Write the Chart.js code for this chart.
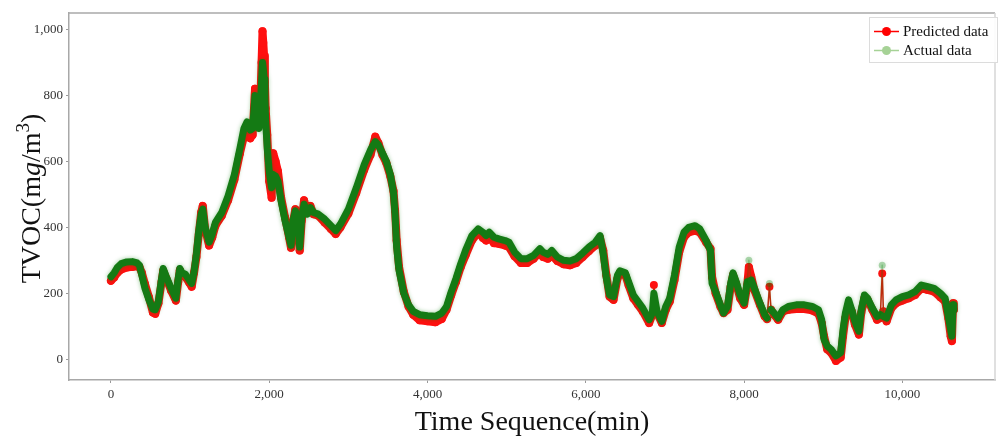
<!DOCTYPE html>
<html>
<head>
<meta charset="utf-8">
<title>TVOC predicted vs actual</title>
<script src="https://cdn.jsdelivr.net/npm/chart.js@4.4.0/dist/chart.umd.min.js"></script>
<style>
  html, body { margin: 0; padding: 0; background: #fff; }
  #wrap { width: 999px; height: 437px; }
</style>
</head>
<body>
<div id="wrap"><canvas id="tvocChart" width="999" height="437"></canvas></div>
<script>
// values (minutes, mg/m3)
const timeMin = [
  0, 40, 80, 130, 200, 270, 330, 360, 390, 430,
  480, 530, 560, 600, 640, 660, 700, 760, 820, 850,
  870, 900, 940, 990, 1020, 1050, 1080, 1110, 1140, 1160,
  1190, 1240, 1280, 1320, 1400, 1480, 1560, 1630, 1680, 1720,
  1760, 1790, 1820, 1850, 1870, 1890, 1903, 1915, 1925, 1935, 1945, 1955, 1975,
  2000, 2030, 2050, 2080, 2110, 2150, 2200, 2250, 2275, 2300,
  2330, 2360, 2385, 2410, 2440, 2480, 2520, 2560, 2620, 2700,
  2780, 2840, 2900, 3000, 3100, 3200, 3280, 3340, 3380, 3430,
  3480, 3530, 3570, 3590, 3610, 3640, 3700, 3760, 3820, 3900,
  4000, 4100, 4180, 4240, 4300, 4360, 4420, 4480, 4560, 4640,
  4700, 4740, 4780, 4840, 4900, 4980, 5030, 5100, 5180, 5260,
  5340, 5420, 5460, 5520, 5570, 5640, 5720, 5800, 5880, 5960,
  6040, 6120, 6180, 6220, 6260, 6300, 6350, 6400, 6430, 6500,
  6540, 6600, 6660, 6720, 6800, 6840, 6860, 6900, 6960, 7010,
  7060, 7120, 7180, 7240, 7300, 7380, 7440, 7520, 7575, 7595,
  7640, 7700, 7740, 7790, 7830, 7860, 7900, 7950, 8000, 8040,
  8060, 8090, 8130, 8200, 8260, 8290, 8320, 8340, 8380, 8430,
  8490, 8560, 8660, 8760, 8860, 8940, 8980, 9010, 9050, 9100,
  9160, 9220, 9250, 9280, 9320, 9360, 9400, 9450, 9480, 9520,
  9560, 9620, 9680, 9720, 9745, 9760, 9800, 9860, 9920, 10000,
  10080, 10160, 10240, 10320, 10400, 10480, 10540, 10580, 10610, 10625,
  10640, 10650
];

const actualTvoc = [
  250, 262, 278, 290, 295, 296, 292, 285, 255, 215,
  180, 152, 150, 175, 245, 275, 250, 215, 185, 245,
  275, 262, 258, 240, 230, 265, 320, 390, 440, 455,
  400, 355, 380, 415, 445, 495, 560, 640, 700, 720,
  695, 700, 800, 760, 700, 780, 840, 900, 880, 850, 790, 720, 640,
  570, 520, 560, 555, 540, 480, 420, 370, 345, 420,
  450, 420, 340, 430, 470, 440, 460, 445, 440, 425,
  405, 390, 410, 455, 520, 590, 635, 660, 650, 625,
  600, 560, 505, 440, 340, 270, 200, 165, 145, 135,
  132, 130, 140, 160, 205, 245, 290, 330, 375, 395,
  385, 375, 385, 370, 365, 360, 355, 325, 305, 305,
  315, 335, 325, 318, 330, 310, 300, 298, 305, 322,
  340, 355, 375, 320, 245, 195, 190, 255, 268, 262,
  235, 195, 175, 155, 120, 140, 200, 145, 115, 160,
  185, 255, 340, 385, 400, 405, 395, 360, 330, 230,
  205, 165, 140, 160, 230, 262, 235, 195, 170, 235,
  300, 240, 215, 170, 135, 125, 230, 150, 140, 125,
  150, 160, 165, 165, 160, 150, 120, 60, 40, 30,
  10, 20, 90, 140, 180, 150, 115, 85, 150, 195,
  185, 155, 130, 135, 285, 130, 125, 165, 180, 190,
  195, 205, 225, 220, 215, 200, 185, 130, 90, 70,
  165, 150
];

const predictedTvoc = [
  238, 248, 262, 272, 278, 280, 282, 280, 262, 228,
  188, 142, 138, 170, 235, 268, 245, 208, 178, 235,
  270, 255, 250, 232, 220, 262, 310, 380, 445, 465,
  395, 345, 370, 405, 435, 482, 545, 625, 675, 690,
  670, 680, 820, 780, 720, 800, 900, 995, 960, 920, 840, 760, 680,
  540, 490, 625, 600, 570, 490, 430, 370, 338, 415,
  455, 430, 330, 420, 482, 445, 465, 440, 435, 415,
  395, 380, 400, 442, 505, 575, 620, 675, 655, 620,
  595, 555, 510, 450, 360, 280, 205, 160, 135, 118,
  115, 112, 122, 150, 195, 235, 280, 315, 360, 385,
  368, 360, 370, 352, 350, 345, 340, 312, 292, 292,
  305, 325, 310, 305, 315, 298, 288, 285, 292, 310,
  328, 345, 368, 330, 255, 190, 180, 245, 262, 255,
  225, 185, 165, 145, 110, 135, 225, 140, 110, 150,
  175, 240, 325, 370, 385, 390, 385, 355, 335, 250,
  200, 160, 140, 150, 220, 255, 228, 185, 165, 225,
  280, 250, 210, 165, 130, 122, 220, 150, 135, 120,
  145, 150, 152, 152, 148, 138, 110, 70, 30, 20,
  -5, 5, 70, 125, 165, 145, 105, 75, 140, 185,
  180, 150, 120, 125, 260, 145, 115, 155, 170, 178,
  185, 195, 215, 210, 205, 188, 175, 125, 70, 55,
  170, 150
];

const xTickValues = [0, 2000, 4000, 6000, 8000, 10000];
const yTickValues = [0, 200, 400, 600, 800, 1000];

const seriesNames = ['Predicted data', 'Actual data'];

const SERIF = "'Liberation Serif', 'Times New Roman', serif";
const SPIKE_JUMP = 58;

function toPoints(vals) {
  return timeMin.map((t, i) => ({ x: t, y: vals[i] }));
}

// a lone reading that sticks out above both neighbours
function isSpike(vals, i) {
  if (i <= 0 || i >= vals.length - 1) return false;
  return vals[i] - vals[i - 1] > SPIKE_JUMP && vals[i] - vals[i + 1] > SPIKE_JUMP;
}

function spikeSegment(vals) {
  return ctx => isSpike(vals, ctx.p0DataIndex) || isSpike(vals, ctx.p1DataIndex);
}

// soft halo round the green band, like many overlapping transparent dots
const glowPlugin = {
  id: 'glow',
  beforeDatasetDraw(chart, args) {
    if (args.index === 1) {
      const ctx = chart.ctx;
      ctx.save();
      ctx.shadowColor = 'rgba(0, 128, 0, 0.4)';
      ctx.shadowBlur = 4;
    }
  },
  afterDatasetDraw(chart, args) {
    if (args.index === 1) chart.ctx.restore();
  }
};

// frame, axis titles and legend box
const decorPlugin = {
  id: 'decor',
  afterDraw(chart) {
    const ctx = chart.ctx;
    const a = chart.chartArea;
    ctx.save();

    // top and right edges of the frame
    ctx.strokeStyle = '#a8a8a8';
    ctx.lineWidth = 1.5;
    ctx.beginPath();
    ctx.moveTo(a.left, a.top);
    ctx.lineTo(a.right, a.top);
    ctx.stroke();
    ctx.strokeStyle = '#d6d6d6';
    ctx.beginPath();
    ctx.moveTo(a.right, a.top);
    ctx.lineTo(a.right, a.bottom);
    ctx.stroke();

    // x title
    ctx.fillStyle = '#111';
    ctx.font = '28px ' + SERIF;
    ctx.textAlign = 'center';
    ctx.textBaseline = 'middle';
    ctx.fillText('Time Sequence(min)', (a.left + a.right) / 2, 423);

    // y title with italic g and raised 3
    const parts = [
      { t: 'TVOC(m', f: '28px ' + SERIF, dy: 0 },
      { t: 'g', f: 'italic 28px ' + SERIF, dy: 0 },
      { t: '/m', f: '28px ' + SERIF, dy: 0 },
      { t: '3', f: '19px ' + SERIF, dy: -11 },
      { t: ')', f: '28px ' + SERIF, dy: 0 }
    ];
    let total = 0;
    parts.forEach(p => { ctx.font = p.f; p.w = ctx.measureText(p.t).width; total += p.w; });
    ctx.translate(30, (a.top + a.bottom) / 2 + 2);
    ctx.rotate(-Math.PI / 2);
    ctx.textAlign = 'left';
    ctx.textBaseline = 'alphabetic';
    let x = -total / 2;
    parts.forEach(p => {
      ctx.font = p.f;
      ctx.fillText(p.t, x, 10 + p.dy);
      x += p.w;
    });
    ctx.setTransform(1, 0, 0, 1, 0, 0);

    // legend
    const bx = 869, by = 17, bw = 128, bh = 45;
    ctx.fillStyle = 'rgba(255,255,255,0.9)';
    ctx.fillRect(bx, by, bw, bh);
    ctx.strokeStyle = '#dcdcdc';
    ctx.lineWidth = 1;
    ctx.strokeRect(bx + 0.5, by + 0.5, bw, bh);
    const items = [
      { name: seriesNames[0], color: '#ff0000', y: 31.5 },
      { name: seriesNames[1], color: '#a6d296', y: 50.5 }
    ];
    items.forEach(it => {
      ctx.strokeStyle = it.color;
      ctx.lineWidth = 1.5;
      ctx.beginPath();
      ctx.moveTo(874, it.y);
      ctx.lineTo(899, it.y);
      ctx.stroke();
      ctx.fillStyle = it.color;
      ctx.beginPath();
      ctx.arc(886.5, it.y, 4.5, 0, Math.PI * 2);
      ctx.fill();
      ctx.fillStyle = '#111';
      ctx.font = '15px ' + SERIF;
      ctx.textAlign = 'left';
      ctx.textBaseline = 'middle';
      ctx.fillText(it.name, 903, it.y + 0.5);
    });

    ctx.restore();
  }
};

const predSpike = spikeSegment(predictedTvoc);
const actSpike = spikeSegment(actualTvoc);

const config = {
  type: 'scatter',
  data: {
    datasets: [
      {
        label: seriesNames[0],
        data: toPoints(predictedTvoc),
        showLine: true,
        borderColor: '#ff1010',
        backgroundColor: '#ff1010',
        borderWidth: 8,
        borderJoinStyle: 'round',
        borderCapStyle: 'round',
        pointRadius: 4,
        pointBorderWidth: 0,
        segment: {
          borderWidth: ctx => predSpike(ctx) ? 1.5 : undefined
        },
        order: 2
      },
      {
        label: seriesNames[1],
        data: toPoints(actualTvoc),
        showLine: true,
        borderColor: 'rgb(20, 122, 20)',
        backgroundColor: 'rgba(0, 128, 0, 0.3)',
        borderWidth: 7,
        borderJoinStyle: 'round',
        borderCapStyle: 'round',
        pointRadius: ctx => isSpike(actualTvoc, ctx.dataIndex) ? 3.5 : 0,
        pointBorderWidth: 0,
        segment: {
          borderWidth: ctx => actSpike(ctx) ? 1.5 : undefined,
          borderColor: ctx => actSpike(ctx) ? 'rgba(0, 128, 0, 0.25)' : undefined
        },
        order: 1
      }
    ]
  },
  options: {
    responsive: false,
    animation: false,
    layout: { padding: { top: 13, right: 1, left: 0, bottom: 0 } },
    plugins: {
      legend: { display: false },
      tooltip: { enabled: false }
    },
    scales: {
      x: {
        type: 'linear',
        min: -530,
        max: 11170,
        afterFit(scale) { scale.height = 57; },
        afterBuildTicks(scale) { scale.ticks = xTickValues.map(v => ({ value: v })); },
        grid: { drawOnChartArea: false, tickLength: 3, color: '#999', lineWidth: 1 },
        border: { color: '#a8a8a8', width: 1.5 },
        ticks: {
          padding: 4,
          color: '#333',
          font: { family: SERIF, size: 13 },
          maxRotation: 0,
          callback: v => v.toLocaleString('en-US')
        }
      },
      y: {
        type: 'linear',
        min: -63,
        max: 1050,
        afterFit(scale) { scale.width = 69; },
        afterBuildTicks(scale) { scale.ticks = yTickValues.map(v => ({ value: v })); },
        grid: { drawOnChartArea: false, tickLength: 3, color: '#999', lineWidth: 1 },
        border: { color: '#a8a8a8', width: 1.5 },
        ticks: {
          padding: 3,
          color: '#333',
          font: { family: SERIF, size: 13 },
          callback: v => v.toLocaleString('en-US')
        }
      }
    }
  },
  plugins: [glowPlugin, decorPlugin]
};

const tvocChart = new Chart(document.getElementById('tvocChart'), config);
</script>
</body>
</html>
